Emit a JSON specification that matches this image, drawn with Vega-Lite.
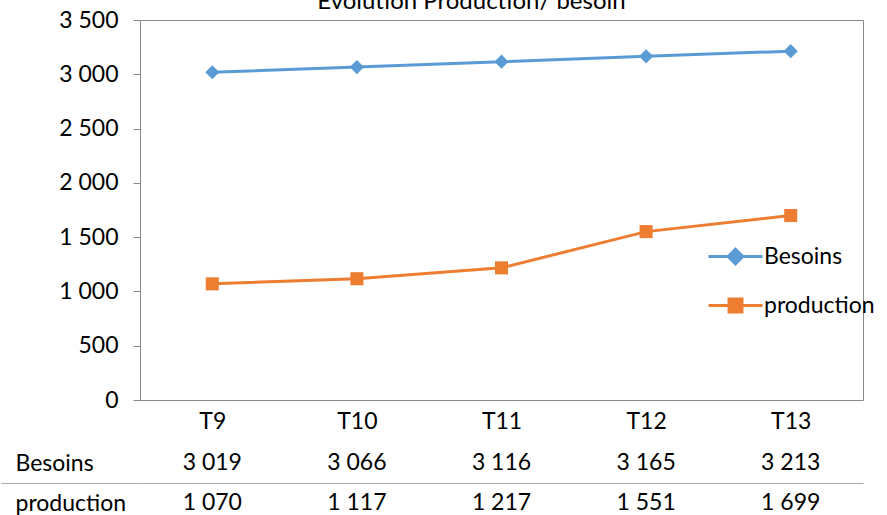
{
  "$schema": "https://vega.github.io/schema/vega-lite/v6.json",
  "padding": {"left": 0, "top": -11, "right": 0, "bottom": 0},
  "spacing": -2,
  "config": {
    "locale": {"number": {"decimal": ",", "thousands": " ", "grouping": [3], "currency": ["", " €"]}},
    "font": "Lato",
    "view": {"stroke": "#888888"}
  },
  "data": {
    "values": [
      {"period": "T9", "series": "Besoins", "value": 3019},
      {"period": "T10", "series": "Besoins", "value": 3066},
      {"period": "T11", "series": "Besoins", "value": 3116},
      {"period": "T12", "series": "Besoins", "value": 3165},
      {"period": "T13", "series": "Besoins", "value": 3213},
      {"period": "T9", "series": "production", "value": 1070},
      {"period": "T10", "series": "production", "value": 1117},
      {"period": "T11", "series": "production", "value": 1217},
      {"period": "T12", "series": "production", "value": 1551},
      {"period": "T13", "series": "production", "value": 1699}
    ]
  },
  "resolve": {"scale": {"x": "independent", "y": "independent"}},
  "vconcat": [
    {
      "width": 723,
      "height": 380,
      "title": {"text": "Evolution Production/ besoin", "fontSize": 24, "font": "Lato", "fontWeight": "normal", "baseline": "alphabetic", "offset": -24, "dx": -30, "color": "black", "anchor": "middle"},
      "encoding": {
        "x": {"field": "period", "type": "ordinal", "sort": ["T9", "T10", "T11", "T12", "T13"],
          "axis": {"title": null, "ticks": false, "domain": false, "labelPadding": 10, "labelFontSize": 23, "labelAngle": 0, "labelColor": "black", "labelFont": "Lato"}},
        "y": {"field": "value", "type": "quantitative", "scale": {"domain": [0, 3500], "nice": false},
          "axis": {"title": null, "domain": false, "grid": false, "tickSize": 7, "tickColor": "#888888", "labelPadding": 15, "values": [0, 500, 1000, 1500, 2000, 2500, 3000, 3500], "format": ",d", "labelFontSize": 23, "labelColor": "black", "labelFont": "Lato"}}
      },
      "layer": [
        {
          "transform": [{"filter": "datum.series === 'Besoins'"}],
          "mark": {"type": "line", "strokeWidth": 3},
          "encoding": {
            "color": {"field": "series", "type": "nominal", "scale": {"domain": ["Besoins"], "range": ["#5B9BD5"]},
              "legend": {
                "orient": "none", "legendX": 567, "legendY": 208, "title": null, "padding": 0,
                "labelFontSize": 23, "labelFont": "Lato", "labelColor": "black",
                "symbolSize": 2916, "symbolStrokeWidth": 3, "labelOffset": 0,
                "symbolType": "M-1,0H1M0,-0.27L0.27,0L0,0.27L-0.27,0Z",
                "symbolFillColor": "#5B9BD5", "symbolStrokeColor": "#5B9BD5", "symbolOpacity": 1
              }}
          }
        },
        {
          "transform": [{"filter": "datum.series === 'Besoins'"}],
          "mark": {"type": "point", "filled": true, "size": 200, "opacity": 1, "shape": "diamond", "color": "#5B9BD5"}
        },
        {
          "transform": [{"filter": "datum.series === 'production'"}],
          "mark": {"type": "line", "strokeWidth": 3},
          "encoding": {
            "stroke": {"field": "series", "type": "nominal", "scale": {"domain": ["production"], "range": ["#ED7D31"]},
              "legend": {
                "orient": "none", "legendX": 567, "legendY": 257, "title": null, "padding": 0,
                "labelFontSize": 23, "labelFont": "Lato", "labelColor": "black",
                "symbolSize": 2916, "symbolStrokeWidth": 3, "labelOffset": 0,
                "symbolType": "M-1,0H1M-0.24,-0.24H0.24V0.24H-0.24Z",
                "symbolFillColor": "#ED7D31", "symbolStrokeColor": "#ED7D31", "symbolOpacity": 1
              }}
          }
        },
        {
          "transform": [{"filter": "datum.series === 'production'"}],
          "mark": {"type": "point", "filled": true, "size": 170, "opacity": 1, "shape": "square", "color": "#ED7D31"}
        }
      ]
    },
    {
      "width": 723,
      "height": 80,
      "view": {"stroke": null},
      "mark": {"type": "text", "fontSize": 23, "font": "Lato", "color": "black"},
      "encoding": {
        "x": {"field": "period", "type": "ordinal", "sort": ["T9", "T10", "T11", "T12", "T13"], "axis": null},
        "y": {"field": "series", "type": "nominal", "sort": ["Besoins", "production"], "scale": {"paddingInner": 0, "paddingOuter": 0},
          "axis": {"title": null, "domain": false, "tickBand": "extent", "tickSize": 139, "grid": true,
            "tickColor": {"condition": {"test": "datum.value === 'Besoins'", "value": "#aaaaaa"}, "value": "transparent"},
            "gridColor": {"condition": {"test": "datum.value === 'Besoins'", "value": "#aaaaaa"}, "value": "transparent"},
            "labelAlign": "left", "labelPadding": -14, "labelFontSize": 23, "labelFont": "Lato", "labelColor": "black"}},
        "text": {"field": "value", "type": "quantitative", "format": ",d"}
      }
    }
  ]
}
